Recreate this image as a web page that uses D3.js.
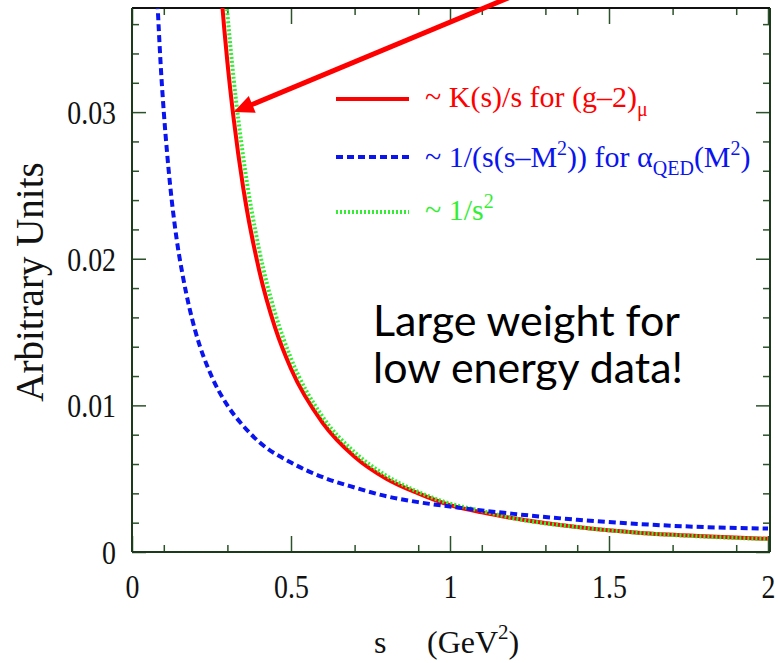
<!DOCTYPE html>
<html><head><meta charset="utf-8">
<script src="https://cdn.jsdelivr.net/npm/d3@7"></script>
<style>body{margin:0;background:#fff} svg{display:block}</style>
</head><body>
<svg id="c" width="778" height="663"></svg>
<script>
// ---- data ----
const blueS      = [0.08,0.09,0.10,0.11,0.12,0.14,0.16,0.18,0.20,0.25,0.30,0.35,0.40,0.50,0.60,0.70,0.80,0.90,1.00,1.20,1.40,1.60,1.80,2.00];
const blueValues = [0.0375,0.0333,0.0300,0.0273,0.0250,0.0214,0.0188,0.0167,0.0150,0.0120,0.0100,0.0086,0.0075,0.0061,0.0051,0.0044,0.0038,0.0034,0.0031,0.0026,0.0022,0.0019,0.0017,0.0016];
const redS       = [0.28,0.29,0.30,0.32,0.35,0.40,0.45,0.50,0.60,0.70,0.80,0.90,1.00,1.10,1.20,1.40,1.60,1.80,2.00];
const redValues  = [0.0383,0.0357,0.0334,0.0295,0.0248,0.0192,0.0153,0.0125,0.0088,0.0065,0.0050,0.0040,0.0032,0.0027,0.0023,0.0017,0.0013,0.00108,0.00090];
const greenS     = [0.29,0.30,0.32,0.35,0.40,0.45,0.50,0.60,0.70,0.80,0.90,1.00,1.10,1.20,1.40,1.60,1.80,2.00];
const greenValues= [0.0392,0.0367,0.0322,0.0269,0.0206,0.0163,0.0132,0.0092,0.0068,0.0052,0.0041,0.0033,0.0028,0.0023,0.0017,0.0013,0.00105,0.00088];

const xMajorTicks = [0,0.5,1,1.5,2];
const xMinorTicks = [0.1,0.3,0.7,0.9,1.1,1.3,1.4,1.7,1.9];
const yMajorTicks = [0,0.01,0.02,0.03];
const yMinorTicks = [0.002,0.004,0.006,0.008,0.012,0.014,0.016,0.018,0.022,0.024,0.026,0.028,0.032,0.034,0.036];
const xDomain = [0,2], yDomain = [0,0.0371];
const arrowTip = [0.32,0.0300], arrowTail = [1.24,0.0383];

// ---- drawing ----
const svg = d3.select("#c");
const L=132, R=768, FR=770, T=8, B=552;
const x = d3.scaleLinear().domain(xDomain).range([L,R]);
const y = d3.scaleLinear().domain(yDomain).range([B,T]);
const axisCol = "#2b522b", serif = "'Liberation Serif','Times New Roman',serif";

svg.append("defs").append("clipPath").attr("id","clip")
  .append("rect").attr("x",L).attr("y",T).attr("width",FR-L).attr("height",B-T);

function styleAxis(g){
  g.select(".domain").remove();
  g.selectAll(".tick line").attr("stroke",axisCol).attr("stroke-width",1.5);
}
// left
svg.append("g").attr("transform",`translate(${L},0)`)
  .call(d3.axisLeft(y).tickValues(yMinorTicks).tickSize(-7).tickFormat("")).call(styleAxis);
const gl = svg.append("g").attr("transform",`translate(${L},0)`)
  .call(d3.axisLeft(y).tickValues(yMajorTicks).tickSize(-14).tickPadding(16).tickFormat(d=>String(d))).call(styleAxis);
gl.selectAll(".tick text").attr("font-family",serif).attr("font-size",34).attr("fill","#111")
  .attr("dy","0.34em").attr("x",-16/0.82).attr("transform","scale(0.82,1)");
// right
svg.append("g").attr("transform",`translate(${FR},0)`)
  .call(d3.axisRight(y).tickValues(yMinorTicks).tickSize(-7).tickFormat("")).call(styleAxis);
svg.append("g").attr("transform",`translate(${FR},0)`)
  .call(d3.axisRight(y).tickValues(yMajorTicks).tickSize(-14).tickFormat("")).call(styleAxis);
// bottom
svg.append("g").attr("transform",`translate(0,${B})`)
  .call(d3.axisBottom(x).tickValues(xMinorTicks).tickSize(-7).tickFormat("")).call(styleAxis);
const gb = svg.append("g").attr("transform",`translate(0,${B})`)
  .call(d3.axisBottom(x).tickValues(xMajorTicks).tickSize(-16).tickFormat(d=>String(d))).call(styleAxis);
gb.selectAll(".tick text").attr("font-family",serif).attr("font-size",34).attr("fill","#111")
  .attr("y",46).attr("dy",0).attr("transform","scale(0.82,1)");
// top
svg.append("g").attr("transform",`translate(0,${T})`)
  .call(d3.axisTop(x).tickValues(xMinorTicks).tickSize(-7).tickFormat("")).call(styleAxis);
svg.append("g").attr("transform",`translate(0,${T})`)
  .call(d3.axisTop(x).tickValues(xMajorTicks).tickSize(-16).tickFormat("")).call(styleAxis);

// frame
svg.append("line").attr("x1",L).attr("x2",FR).attr("y1",T).attr("y2",T).attr("stroke","#111").attr("stroke-width",2);
svg.append("line").attr("x1",L).attr("x2",FR).attr("y1",B).attr("y2",B).attr("stroke","#1c3a1c").attr("stroke-width",2);
svg.append("line").attr("x1",L).attr("x2",L).attr("y1",T).attr("y2",B).attr("stroke","#1c3a1c").attr("stroke-width",2);
svg.append("line").attr("x1",FR).attr("x2",FR).attr("y1",T).attr("y2",B).attr("stroke","#1c3a1c").attr("stroke-width",2);

// curves
const line = d3.line().x(d=>x(d[0])).y(d=>y(d[1])).curve(d3.curveMonotoneX);
const plot = svg.append("g").attr("clip-path","url(#clip)");
plot.append("path").attr("d",line(d3.zip(redS,redValues))).attr("fill","none")
  .attr("stroke","#ff0000").attr("stroke-width",4);
plot.append("path").attr("d",line(d3.zip(greenS,greenValues))).attr("fill","none")
  .attr("stroke","#33ee33").attr("stroke-width",4).attr("stroke-dasharray","2,2");
plot.append("path").attr("d",line(d3.zip(blueS,blueValues))).attr("fill","none")
  .attr("stroke","#0a14ee").attr("stroke-width",4).attr("stroke-dasharray","7,4");

// legend
const leg = [
  {y:99, col:"#ff0000", dash:null},
  {y:157, col:"#0a14ee", dash:"7,4"},
  {y:212, col:"#33ee33", dash:"2,2"}
];
leg.forEach(l=>{
  svg.append("line").attr("x1",336).attr("x2",409).attr("y1",l.y).attr("y2",l.y)
    .attr("stroke",l.col).attr("stroke-width",4).attr("stroke-dasharray",l.dash);
});
function legText(yb,col){
  return svg.append("text").attr("x",425).attr("y",yb).attr("fill",col)
    .attr("font-family",serif).attr("font-size",30);
}
const t1 = legText(107,"#ff0000");
t1.append("tspan").text("~ K(s)/s for (g\u20132)");
t1.append("tspan").attr("font-size",20).attr("dy",9).text("\u03bc");
const t2 = legText(167,"#0a14ee");
t2.append("tspan").text("~ 1/(s(s\u2013M");
t2.append("tspan").attr("font-size",20).attr("dy",-12).text("2");
t2.append("tspan").attr("dy",12).text(")) for \u03b1");
t2.append("tspan").attr("font-size",20).attr("dy",8).text("QED");
t2.append("tspan").attr("dy",-8).text("(M");
t2.append("tspan").attr("font-size",20).attr("dy",-12).text("2");
t2.append("tspan").attr("dy",12).text(")");
const t3 = legText(220,"#33ee33");
t3.append("tspan").text("~ 1/s");
t3.append("tspan").attr("font-size",20).attr("dy",-12).text("2");

// axis titles
svg.append("text").attr("transform","translate(43,282) rotate(-90)").attr("text-anchor","middle")
  .attr("font-family",serif).attr("font-size",39).attr("fill","#111").text("Arbitrary Units");
svg.append("text").attr("x",374).attr("y",653).attr("font-family",serif).attr("font-size",32).attr("fill","#111").text("s");
const xt = svg.append("text").attr("x",427).attr("y",653).attr("font-family",serif).attr("font-size",32).attr("fill","#111");
xt.append("tspan").text("(GeV");
xt.append("tspan").attr("font-size",21).attr("dy",-14).text("2");
xt.append("tspan").attr("dy",14).text(")");

// annotation text
svg.append("text").attr("x",373).attr("y",336).attr("font-family","Lato,'Open Sans',sans-serif")
  .attr("font-size",42).attr("fill","#000").attr("textLength",307).attr("lengthAdjust","spacingAndGlyphs").text("Large weight for");
svg.append("text").attr("x",373).attr("y",383).attr("font-family","Lato,'Open Sans',sans-serif")
  .attr("font-size",42).attr("fill","#000").attr("textLength",310).attr("lengthAdjust","spacingAndGlyphs").text("low energy data!");

// arrow
const tip=[x(arrowTip[0]),y(arrowTip[1])], tail=[x(arrowTail[0]),y(arrowTail[1])];
const dx=tail[0]-tip[0], dy=tail[1]-tip[1], len=Math.hypot(dx,dy), ux=dx/len, uy=dy/len, nx=-uy, ny=ux;
const HL=20, HW=9;
svg.append("line").attr("x1",tail[0]).attr("y1",tail[1]).attr("x2",tip[0]+ux*HL*0.8).attr("y2",tip[1]+uy*HL*0.8)
  .attr("stroke","#ff0000").attr("stroke-width",5);
svg.append("path").attr("d",`M${tip[0]},${tip[1]}L${tip[0]+ux*HL+nx*HW},${tip[1]+uy*HL+ny*HW}L${tip[0]+ux*HL-nx*HW},${tip[1]+uy*HL-ny*HW}Z`)
  .attr("fill","#ff0000");
</script>
</body></html>
